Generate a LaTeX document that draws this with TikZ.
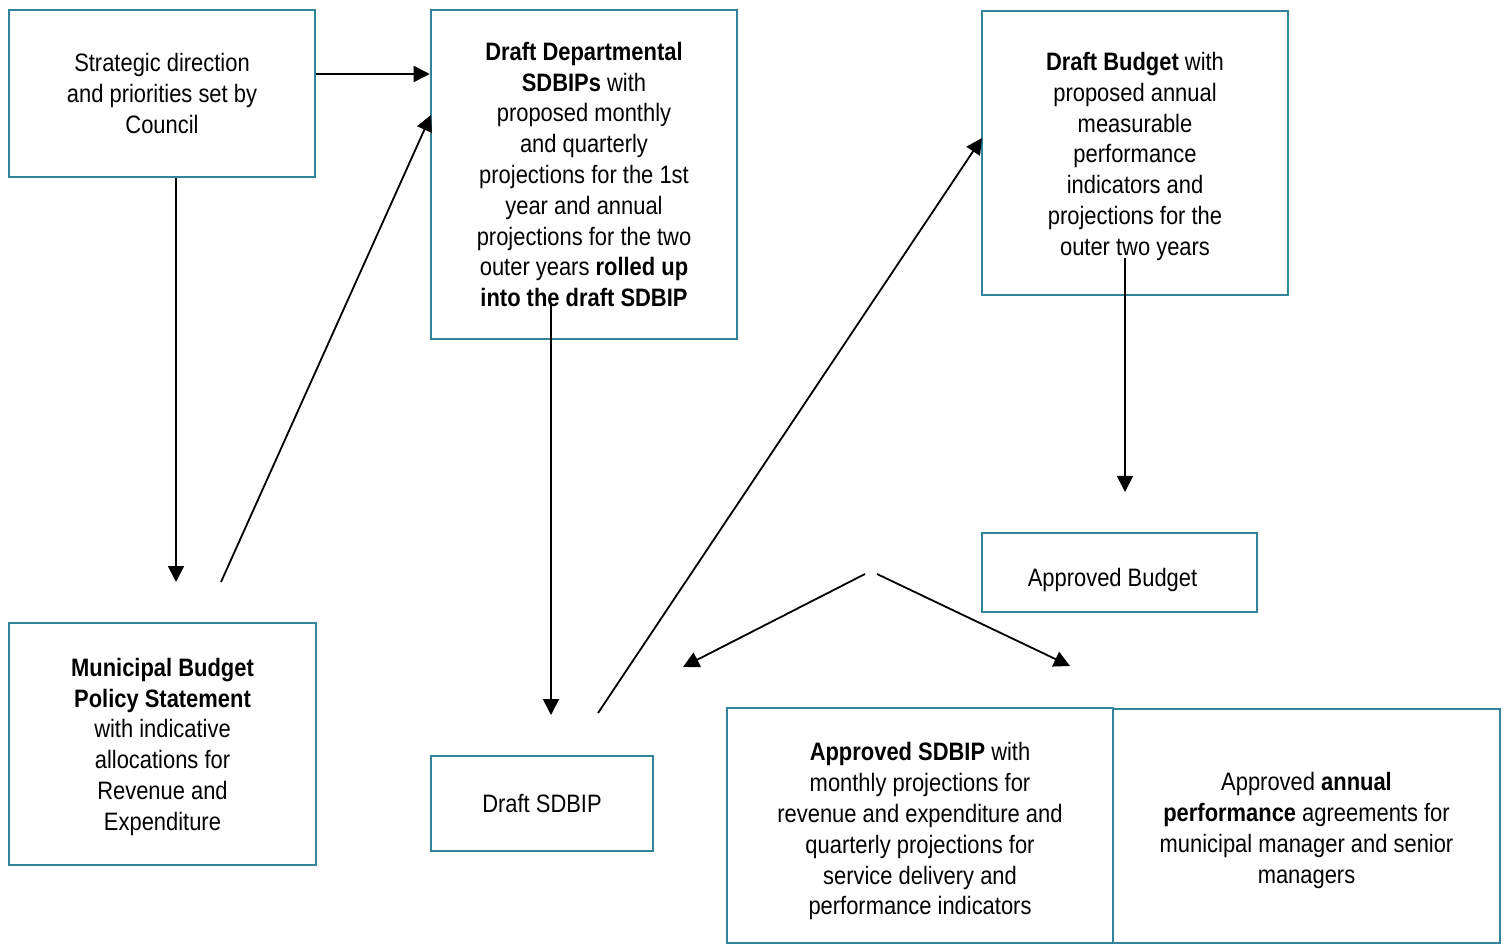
\documentclass[tikz,border=0pt]{standalone}
\usepackage{fontspec}
\setmainfont{Liberation Sans}[FakeStretch=0.87]
\usetikzlibrary{arrows.meta}
\definecolor{boxc}{HTML}{31849B}
\begin{document}
\begin{tikzpicture}[x=0.5pt,y=-0.5pt,
  box/.style={draw=boxc,line width=1.3pt,align=center,inner sep=0pt,
    font=\fontsize{12.6}{15.4}\selectfont},
  arr/.style={-{Triangle[length=8pt,width=8pt]},line width=0.9pt}]
\useasboundingbox (0,0) rectangle (1507,945);
\node[box,minimum width=153pt,minimum height=83.5pt] (sd) at (162,93.5)
  {Strategic direction\\and priorities set by\\Council};
\node[box,minimum width=153pt,minimum height=164.5pt] (dd) at (584,174.5)
  {\textbf{Draft Departmental}\\\textbf{SDBIPs} with\\proposed monthly\\and quarterly\\projections for the 1st\\year and annual\\projections for the two\\outer years \textbf{rolled up}\\\textbf{into the draft SDBIP}};
\node[box,minimum width=153pt,minimum height=142pt] (db) at (1135,153)
  {\rule{0pt}{12.6pt}\textbf{Draft Budget} with\\proposed annual\\measurable\\performance\\indicators and\\projections for the\\outer two years};
\node[box,minimum width=153.5pt,minimum height=121pt] (mb) at (162.5,744)
  {\rule{0pt}{12pt}\textbf{Municipal Budget}\\\textbf{Policy Statement}\\with indicative\\allocations for\\Revenue and\\Expenditure};
\node[box,minimum width=111pt,minimum height=47.5pt] (ds) at (542,803.5)
  {Draft SDBIP};
\node[box,minimum width=137.5pt,minimum height=39.5pt] (ab) at (1119.5,572.5)
  {\rule{0pt}{16.5pt}Approved Budget\hspace*{7pt}};
\node[box,minimum width=193pt,minimum height=117.5pt] (as) at (920,825.5)
  {\rule{0pt}{15pt}\textbf{Approved SDBIP} with\\monthly projections for\\revenue and expenditure and\\quarterly projections for\\service delivery and\\performance indicators};
\node[box,minimum width=193.5pt,minimum height=117pt] (aa) at (1306.5,826)
  {\rule{0pt}{13.5pt}Approved \textbf{annual}\\\textbf{performance} agreements for\\municipal manager and senior\\managers};
% free ends
\coordinate (c1) at (176,582);
\coordinate (c2) at (221,582);
\coordinate (c3) at (431,115);
\coordinate (c4) at (551,305);
\coordinate (c5) at (551,715);
\coordinate (c6) at (598,713);
\coordinate (c7) at (982,138);
\coordinate (c8) at (1125,258);
\coordinate (c9) at (1125,492);
\coordinate (c10) at (865,574);
\coordinate (c11) at (683,667);
\coordinate (c12) at (877,574);
\coordinate (c13) at (1070,666);
\draw[arr] (sd.east |- 0,74) -- (dd.west |- 0,74);
\draw[arr] (sd.south -| c1) -- (c1);
\draw[arr] (c2) -- (c3);
\draw[arr] (c4) -- (c5);
\draw[arr] (c6) -- (c7);
\draw[arr] (c8) -- (c9);
\draw[arr] (c10) -- (c11);
\draw[arr] (c12) -- (c13);
\end{tikzpicture}
\end{document}
